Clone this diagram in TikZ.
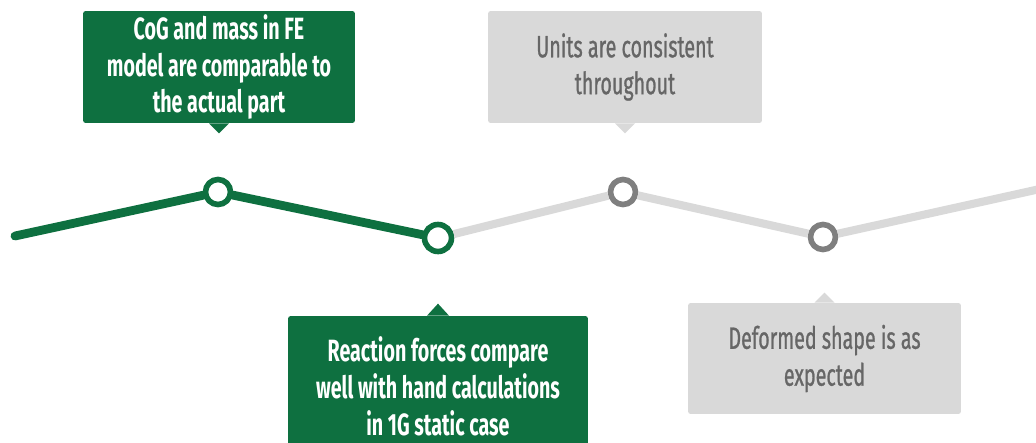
\documentclass[tikz,border=0pt]{standalone}
\usepackage{fontspec}
\usepackage{xcolor}
\usepackage{tikz}
\usetikzlibrary{positioning}

\setmainfont{Fira Sans}[FakeStretch=0.64]
\newfontfamily\greytext{Fira Sans}[FakeStretch=0.64, FakeBold=0.8]

\definecolor{fegreen}{HTML}{0E7040}
\definecolor{lightgrey}{HTML}{D9D9D9}
\definecolor{ringgrey}{HTML}{7F7F7F}
\definecolor{textgrey}{HTML}{666666}

\begin{document}
\begin{tikzpicture}[
  x=0.02cm, y=-0.02cm,
  card/.style={rectangle, rounded corners=1.5pt, inner sep=0pt, align=center},
  donecard/.style={card, fill=fegreen, text=white, font=\fontsize{17.5}{21}\selectfont\bfseries},
  todocard/.style={card, fill=lightgrey, text=textgrey, font=\fontsize{17.5}{21}\selectfont\greytext},
  ring/.style={circle, draw, fill=white, line width=3.2pt, inner sep=0pt, minimum size=0.5cm}
]
  \useasboundingbox (0,0) rectangle (1036,443);

  % milestones on the path
  \coordinate (start) at (15,236);
  \coordinate (finish) at (1040,189);
  \node[ring, draw=fegreen] (cog) at (218,192) {};
  \node[ring, draw=fegreen, minimum size=0.54cm] (reac) at (438,238) {};
  \node[ring, draw=ringgrey] (units) at (623,192) {};
  \node[ring, draw=ringgrey] (shape) at (823,237) {};

  \draw[fegreen, line width=5pt, line cap=round] (start) -- (cog) -- (reac);
  \draw[lightgrey, line width=4.6pt] (reac) -- (units) -- (shape) -- (finish);

  % call-outs
  \node[donecard, minimum width=5.44cm, minimum height=2.24cm] (cogbox) at (219,67)
    {CoG and mass in FE\\model are comparable to\\the actual part};
  \node[todocard, minimum width=5.48cm, minimum height=2.24cm] (unitbox) at (625,67)
    {Units are consistent\\throughout};
  \node[donecard, minimum width=6cm, minimum height=2.8cm] (reacbox) at (438,386)
    {Reaction forces compare\\well with hand calculations\\in 1G static case};
  \node[todocard, minimum width=5.46cm, minimum height=2.22cm] (shapebox) at (824.5,358.5)
    {Deformed shape is as\\expected};

  \fill[fegreen] ([xshift=-0.2cm]cogbox.south) -- ++(10,10) -- ++(10,-10) -- cycle;
  \fill[lightgrey] ([xshift=-0.2cm]unitbox.south) -- ++(10,10) -- ++(10,-10) -- cycle;
  \fill[fegreen] ([xshift=-0.22cm]reacbox.north) -- ++(11,-12) -- ++(11,12) -- cycle;
  \fill[lightgrey] ([xshift=-0.2cm]shapebox.north) -- ++(10,-10) -- ++(10,10) -- cycle;
\end{tikzpicture}
\end{document}
